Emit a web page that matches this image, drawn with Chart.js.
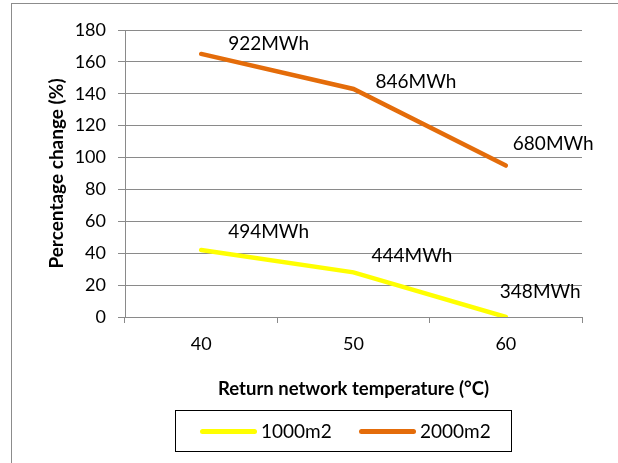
<!DOCTYPE html>
<html>
<head>
<meta charset="utf-8">
<script src="https://cdn.jsdelivr.net/npm/chart.js@4.4.1/dist/chart.umd.min.js"></script>
<style>
    body { margin: 0; background: #fff; font-family: Lato, sans-serif; }
    #wrap { position: relative; width: 618px; height: 463px; overflow: hidden; }
    #frame { position: absolute; left: 11px; top: 3px; width: 700px; height: 600px;
             border-left: 1.5px solid #8c8c8c; border-top: 1.5px solid #8c8c8c; }
    #chartBox { position: absolute; left: 0; top: 0; width: 618px; height: 463px; }
    #legend { position: absolute; left: 175px; top: 410px; width: 335px; height: 40px;
              border: 1.5px solid #000; font-size: 19px; color: #000; }
    .item { position: absolute; top: 0; height: 40px; line-height: 40px; }
    .swatch { position: absolute; top: 18px; width: 57px; height: 5px; border-radius: 3px; }
</style>
</head>
<body>
<div id="wrap">
    <div id="frame"></div>
    <div id="chartBox"><canvas id="myChart"></canvas></div>
    <div id="legend"></div>
</div>
<script>
const temperatures = ['40', '50', '60'];
const change1000 = [42, 28, 0];
const change2000 = [165, 143, 95];
const energy1000 = ['494MWh', '444MWh', '348MWh'];
const energy2000 = ['922MWh', '846MWh', '680MWh'];
const seriesNames = ['1000m2', '2000m2'];
const yTicks = [0, 20, 40, 60, 80, 100, 120, 140, 160, 180];

const yellow = '#ffff00';
const orange = '#e46c0a';
const gridGray = '#8a8a8a';

// draws the MWh text beside each point
const energyLabels = {
    id: 'energyLabels',
    afterDatasetsDraw(chart, args, opts) {
        const ctx = chart.ctx;
        ctx.save();
        ctx.font = '19px Lato';
        ctx.fillStyle = '#000';
        ctx.textAlign = 'left';
        ctx.textBaseline = 'middle';
        chart.data.datasets.forEach((ds, i) => {
            const meta = chart.getDatasetMeta(i);
            meta.data.forEach((pt, j) => {
                ctx.fillText(ds.energy[j], pt.x + opts.dx[i][j], pt.y + opts.dy[i][j]);
            });
        });
        ctx.restore();
    }
};

const ctx = document.getElementById('myChart').getContext('2d');
const myChart = new Chart(ctx, {
    type: 'line',
    data: {
        labels: temperatures,
        datasets: [{
            label: seriesNames[0],
            data: change1000,
            energy: energy1000,
            borderColor: yellow,
            backgroundColor: yellow,
            borderWidth: 4.5,
            pointRadius: 0,
            borderCapStyle: 'round',
            tension: 0
        }, {
            label: seriesNames[1],
            data: change2000,
            energy: energy2000,
            borderColor: orange,
            backgroundColor: orange,
            borderWidth: 4.5,
            pointRadius: 0,
            borderCapStyle: 'round',
            tension: 0
        }]
    },
    options: {
        responsive: true,
        maintainAspectRatio: false,
        animation: false,
        layout: { padding: { left: 45, right: 36, top: 30, bottom: 63 } },
        plugins: {
            legend: { display: false },
            tooltip: { enabled: false },
            energyLabels: {
                dx: [[27, 18, -6], [27, 22, 7]],
                dy: [[-18, -16, -25], [-10, -7, -22]]
            }
        },
        scales: {
            x: {
                offset: true,
                grid: { offset: true, drawOnChartArea: false, tickLength: 6, color: gridGray, lineWidth: 1 },
                border: { color: gridGray, width: 1 },
                ticks: { padding: 10, color: '#000', font: { family: 'Lato', size: 18 } },
                title: {
                    display: true,
                    text: 'Return network temperature (°C)',
                    color: '#000',
                    font: { family: 'Lato', size: 18.5, weight: 'bold' },
                    padding: 0
                },
                afterFit(scale) { scale.height = 83; }
            },
            y: {
                min: 0,
                max: 180,
                afterBuildTicks(scale) { scale.ticks = yTicks.map(v => ({ value: v })); },
                grid: { tickLength: 7, color: gridGray, lineWidth: 1 },
                border: { color: gridGray, width: 1 },
                ticks: { padding: 12, color: '#000', font: { family: 'Lato', size: 18 } },
                title: {
                    display: true,
                    text: 'Percentage change (%)',
                    color: '#000',
                    font: { family: 'Lato', size: 19, weight: 'bold' },
                    padding: 0
                },
                afterFit(scale) { scale.width = 80; }
            }
        }
    },
    plugins: [energyLabels]
});

// legend box like the original
const legend = document.getElementById('legend');
const legendColors = [yellow, orange];
const legendLeft = [24, 183];
seriesNames.forEach((name, i) => {
    const item = document.createElement('div');
    item.className = 'item';
    item.style.left = legendLeft[i] + 'px';
    item.innerHTML = `<span class="swatch" style="left:0;background:${legendColors[i]}"></span>` +
        `<span style="margin-left:61px">${name}</span>`;
    legend.appendChild(item);
});
</script>
</body>
</html>
